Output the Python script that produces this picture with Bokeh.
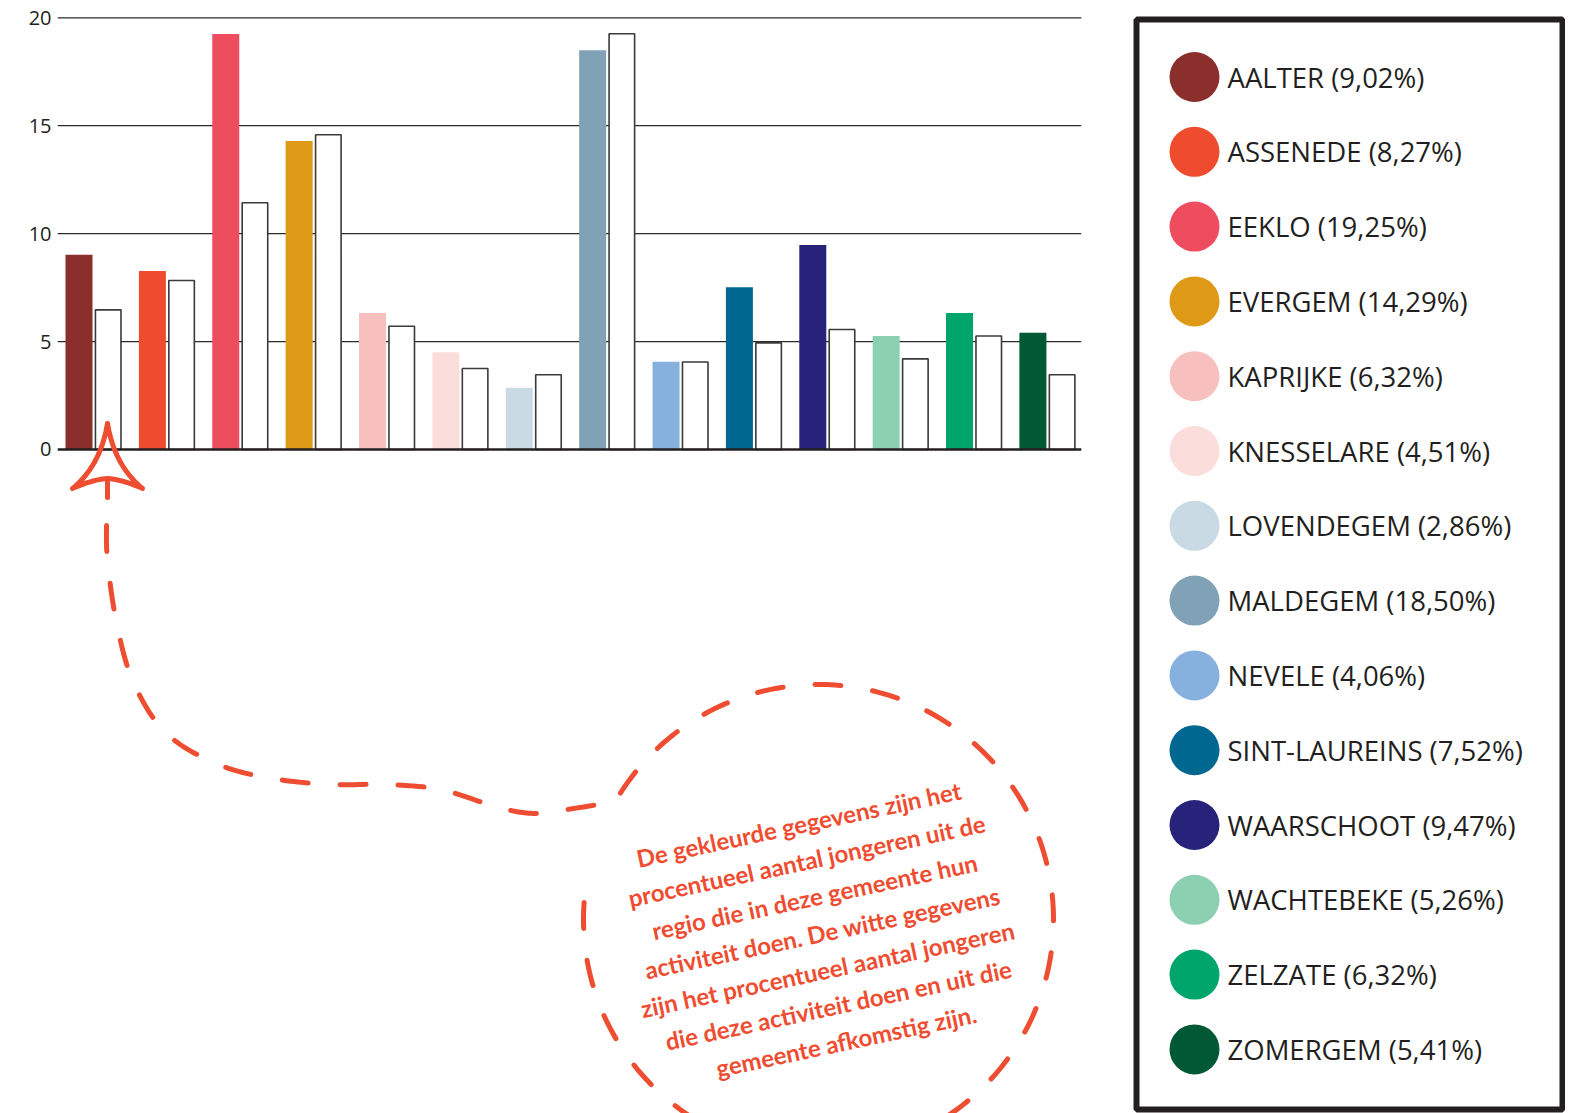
import numpy as np
from bokeh.plotting import figure
from bokeh.models import Range1d, FixedTicker
from bokeh.core.properties import value
from bokeh.embed import file_html
from bokeh.resources import INLINE

# ---------------- data ----------------
municipalities = ["AALTER", "ASSENEDE", "EEKLO", "EVERGEM", "KAPRIJKE", "KNESSELARE",
                  "LOVENDEGEM", "MALDEGEM", "NEVELE", "SINT-LAUREINS", "WAARSCHOOT",
                  "WACHTEBEKE", "ZELZATE", "ZOMERGEM"]
region_pct = [9.02, 8.27, 19.25, 14.29, 6.32, 4.51, 2.86, 18.50, 4.06, 7.52, 9.47, 5.26, 6.32, 5.41]
local_pct = [6.47, 7.83, 11.43, 14.58, 5.71, 3.75, 3.46, 19.26, 4.05, 4.94, 5.56, 4.20, 5.26, 3.46]
bar_colors = ["#8B2F2C", "#EF4B2E", "#EE4C5F", "#DE9916", "#F8BFBF", "#FBDDDB", "#C9DAE4",
              "#81A2B6", "#86B1DF", "#006890", "#27237A", "#8DD0B1", "#00A56B", "#005834"]
y_ticks = [0, 5, 10, 15, 20]
note_lines = ["De gekleurde gegevens zijn het",
              "procentueel aantal jongeren uit de",
              "regio die in deze gemeente hun",
              "activiteit doen. De witte gegevens",
              "zijn het procentueel aantal  jongeren",
              "die deze activiteit doen en uit die",
              "gemeente afkomstig zijn."]

# ---------------- styling / layout constants ----------------
INK = "#231f20"
ACCENT = "#EF4D31"
FONT = "Open Sans"
n = len(municipalities)

p = figure(width=1565, height=1113,
           x_range=Range1d(-0.492, 20.059), y_range=Range1d(-30.762, 20.801),
           output_backend="svg", toolbar_location=None, x_axis_type=None,
           min_border_left=57, min_border_right=0, min_border_top=0, min_border_bottom=0)
p.xgrid.visible = False
p.ygrid.visible = False
p.outline_line_color = None
p.background_fill_color = "white"
p.border_fill_color = "white"

p.yaxis.ticker = FixedTicker(ticks=y_ticks)
p.yaxis.axis_line_color = None
p.yaxis.major_tick_line_color = None
p.yaxis.minor_tick_line_color = None
p.yaxis.major_tick_out = 0
p.yaxis.major_label_standoff = 6
p.yaxis.major_label_text_font = FONT
p.yaxis.major_label_text_font_size = "20px"
p.yaxis.major_label_text_color = INK

p.extra_x_ranges = {"px": Range1d(57, 1565)}
p.extra_y_ranges = {"px": Range1d(1113, 0)}

# grid lines (restricted to the bar area)
x_start = -0.492
x_end = n - 0.54
grid_vals = [t for t in y_ticks if t > 0]
p.segment(x0=[x_start] * len(grid_vals), x1=[x_end] * len(grid_vals),
          y0=grid_vals, y1=grid_vals, line_color="#2b2b2b", line_width=1.3)

# bars
offset = 0.199
bw = 0.368
idx = np.arange(n)
p.vbar(x=idx - offset, top=region_pct, bottom=0, width=bw,
       fill_color=bar_colors, line_color=None)
p.vbar(x=idx + offset, top=local_pct, bottom=0, width=bw - 0.02,
       fill_color="white", line_color="#3a3a3a", line_width=1.6)

# baseline
p.segment(x0=[x_start], x1=[x_end], y0=[0], y1=[0], line_color=INK, line_width=2.6)

# ---------------- legend box (screen-pixel range) ----------------
p.quad(left=[1136], right=[1562], top=[19], bottom=[1109], fill_color=None,
       line_color=INK, line_width=6, x_range_name="px", y_range_name="px")
row_y = [76.5 + 74.8 * i for i in range(n)]
labels = [f"{m} ({v:.2f}%)".replace(".", ",") for m, v in zip(municipalities, region_pct)]
p.scatter(x=[1194] * n, y=row_y, size=50, fill_color=bar_colors, line_color=None,
          x_range_name="px", y_range_name="px")
p.text(x=[1227] * n, y=row_y, text=labels, text_baseline="middle", text_align="left",
       text_font=value(FONT), text_font_size="27.5px", text_color=INK,
       x_range_name="px", y_range_name="px")


# ---------------- annotation ----------------
def catmull(points, steps=16):
    pts = [points[0]] + list(points) + [points[-1]]
    out = []
    for i in range(1, len(pts) - 2):
        p0, p1, p2, p3 = [np.array(q, dtype=float) for q in pts[i - 1:i + 3]]
        for t in np.linspace(0, 1, steps, endpoint=False):
            out.append(0.5 * ((2 * p1) + (-p0 + p2) * t + (2 * p0 - 5 * p1 + 4 * p2 - p3) * t ** 2
                              + (-p0 + 3 * p1 - 3 * p2 + p3) * t ** 3))
    out.append(np.array(points[-1], dtype=float))
    return out


def quad_bez(a, c, b, steps=20):
    a, c, b = [np.array(q, dtype=float) for q in (a, c, b)]
    return [(1 - t) ** 2 * a + 2 * t * (1 - t) * c + t ** 2 * b for t in np.linspace(0, 1, steps)]


path_pts = [(106, 525), (107, 560), (116, 622), (133, 682), (166, 733), (218, 764),
            (272, 778), (330, 784), (384, 784), (440, 789), (498, 807), (535, 813),
            (573, 808), (610, 802)]
curve = catmull(path_pts)
cx, cy, r = 818, 919, 235
ang = np.radians(np.linspace(-150, 186, 300))
circle = [np.array([cx + r * np.cos(a), cy + r * np.sin(a)]) for a in ang]
full = curve + circle
p.line(x=[q[0] for q in full], y=[q[1] for q in full], line_color=ACCENT, line_width=5,
       line_dash="26 32", line_cap="round", line_join="round",
       x_range_name="px", y_range_name="px")

tip, left_c, mid, right_c = (107, 423), (72, 488), (107, 478), (142, 488)
head = (quad_bez(tip, (100, 465), left_c) + quad_bez(left_c, (92, 479), mid)
        + quad_bez(mid, (122, 479), right_c) + quad_bez(right_c, (114, 465), tip))
p.line(x=[q[0] for q in head], y=[q[1] for q in head], line_color=ACCENT, line_width=5,
       line_cap="round", line_join="round", x_range_name="px", y_range_name="px")
p.line(x=[107, 107], y=[478, 497], line_color=ACCENT, line_width=5, line_cap="round",
       x_range_name="px", y_range_name="px")

center = np.array([822.0, 932.0])
step = np.array([7.9, 36.1])
nx = [center[0] + (k - 3) * step[0] for k in range(len(note_lines))]
ny = [center[1] + (k - 3) * step[1] for k in range(len(note_lines))]
p.text(x=nx, y=ny, text=note_lines, angle=12, angle_units="deg",
       text_align="center", text_baseline="alphabetic",
       text_font=value("Lato"), text_font_style="bold", text_font_size="24px",
       text_color=ACCENT, x_range_name="px", y_range_name="px")

open("out.html", "w").write(file_html(p, INLINE))
